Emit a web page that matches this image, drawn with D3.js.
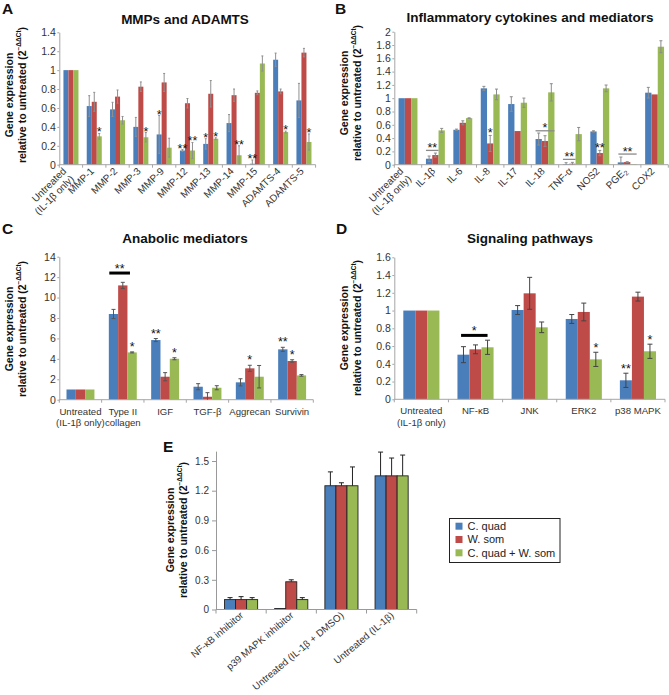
<!DOCTYPE html>
<html><head><meta charset="utf-8">
<script src="https://cdn.jsdelivr.net/npm/d3@7"></script>
<style>body{margin:0;background:#fff;} svg{font-family:"Liberation Sans", Arial, sans-serif;}</style>
</head><body><svg id="c" width="669" height="695"></svg>
<script>
// ---------- DATA ----------
const seriesNames = ["C. quad", "W. som", "C. quad + W. som"];
const seriesColors = ["#4a7ebb", "#be4b48", "#98b954"];

// Panel A: MMPs and ADAMTS
const catsA = ["Untreated\n(IL-1β only)", "MMP-1", "MMP-2", "MMP-3", "MMP-9", "MMP-12", "MMP-13", "MMP-14", "MMP-15", "ADAMTS-4", "ADAMTS-5"];
const cquadA = [1, 0.62, 0.585, 0.40, 0.32, 0.15, 0.22, 0.44, 0.01, 1.11, 0.68];
const wsomA  = [1, 0.665, 0.72, 0.825, 0.87, 0.65, 0.75, 0.735, 0.76, 0.775, 1.185];
const comboA = [1, 0.30, 0.47, 0.29, 0.18, 0.15, 0.275, 0.10, 1.07, 0.345, 0.24];
const cquadErrA = [0, 0.11, 0.075, 0.1, 0.2, 0.01, 0.055, 0.09, 0.04, 0.07, 0.18];
const wsomErrA  = [0, 0.1, 0.07, 0.05, 0.095, 0.05, 0.14, 0.065, 0.02, 0.025, 0.045];
const comboErrA = [0, 0.03, 0.04, 0.05, 0.1, 0.085, 0.01, 0.1, 0.08, 0.01, 0.085];
const ticksA = [0, 0.2, 0.4, 0.6, 0.8, 1, 1.2, 1.4];
const tickLabelsA = ["0", "0.2", "0.4", "0.6", "0.8", "1", "1.2", "1.4"];
const annotA = [
  {cat:1, s:2, t:"*"}, {cat:3, s:2, t:"*"}, {cat:4, s:0, t:"*"}, {cat:5, s:0, t:"**"},
  {cat:5, s:2, t:"**"}, {cat:6, s:0, t:"*"}, {cat:6, s:2, t:"*"}, {cat:7, s:2, t:"**"},
  {cat:8, s:0, t:"**"}, {cat:9, s:2, t:"*"}, {cat:10, s:2, t:"*"}
];

// Panel B: Inflammatory cytokines and mediators
const catsB = ["Untreated\n(IL-1β only)", "IL-1β", "IL-6", "IL-8", "IL-17", "IL-18", "TNF-α", "NOS2", "PGE_2", "COX2"];
const cquadB = [1, 0.09, 0.525, 1.148, 0.912, 0.386, 0.01, 0.50, 0.035, 1.083];
const wsomB  = [1, 0.145, 0.63, 0.32, 0.506, 0.356, 0.015, 0.175, 0.04, 1.057];
const comboB = [1, 0.516, 0.70, 1.057, 0.932, 1.088, 0.46, 1.148, 0.01, 1.774];
const cquadErrB = [0, 0.04, 0.01, 0.03, 0.11, 0.09, 0.02, 0.01, 0.08, 0.08];
const wsomErrB  = [0, 0.03, 0.03, 0.12, 0, 0.08, 0.02, 0.04, 0.005, 0];
const comboErrB = [0, 0.03, 0.005, 0.08, 0.07, 0.13, 0.1, 0.05, 0, 0.09];
const ticksB = [0, 0.2, 0.4, 0.6, 0.8, 1, 1.2, 1.4, 1.6, 1.8, 2];
const tickLabelsB = ["0", "0.2", "0.4", "0.6", "0.8", "1", "1.2", "1.4", "1.6", "1.8", "2"];
const annotB = [
  {cat:1, a:0, b:2, yv:0.215, t:"**"}, {cat:3, s:1, t:"*"},
  {cat:5, a:0, b:3, yv:0.51, t:"*"}, {cat:6, a:0, b:2, yv:0.08, t:"**"},
  {cat:7, s:1, t:"**"}, {cat:8, a:0.1, b:3, yv:0.16, t:"**"}
];

// Panel C: Anabolic mediators
const catsC = ["Untreated\n(IL-1β only)", "Type II\ncollagen", "IGF", "TGF-β", "Aggrecan", "Survivin"];
const cquadC = [1, 8.39, 5.84, 1.27, 1.70, 4.93];
const wsomC  = [1, 11.19, 2.25, 0.29, 3.07, 3.79];
const comboC = [1, 4.63, 4.01, 1.17, 2.25, 2.38];
const cquadErrC = [0, 0.45, 0.15, 0.3, 0.35, 0.2];
const wsomErrC  = [0, 0.3, 0.4, 0.4, 0.3, 0.12];
const comboErrC = [0, 0.05, 0.1, 0.2, 1.1, 0.08];
const ticksC = [0, 2, 4, 6, 8, 10, 12, 14];
const tickLabelsC = ["0", "2", "4", "6", "8", "10", "12", "14"];
const annotC = [
  {cat:1, a:0.05, b:2.27, yv:12.4, t:"**", thick:true}, {cat:1, s:2, t:"*"},
  {cat:2, s:0, t:"**"}, {cat:2, s:2, t:"*"}, {cat:4, s:1, t:"*"},
  {cat:5, s:0, t:"**"}, {cat:5, s:1, t:"*"}
];

// Panel D: Signaling pathways
const catsD = ["Untreated\n(IL-1β only)", "NF-κB", "JNK", "ERK2", "p38 MAPK"];
const cquadD = [1, 0.503, 1.006, 0.905, 0.214];
const wsomD  = [1, 0.563, 1.194, 0.984, 1.157];
const comboD = [1, 0.586, 0.811, 0.45, 0.541];
const cquadErrD = [0, 0.09, 0.05, 0.05, 0.08];
const wsomErrD  = [0, 0.05, 0.18, 0.1, 0.05];
const comboErrD = [0, 0.08, 0.06, 0.08, 0.08];
const ticksD = [0, 0.2, 0.4, 0.6, 0.8, 1, 1.2, 1.4, 1.6];
const tickLabelsD = ["0", "0.2", "0.4", "0.6", "0.8", "1", "1.2", "1.4", "1.6"];
const annotD = [
  {cat:1, a:0.3, b:2.5, yv:0.72, t:"*", thick:true},
  {cat:3, s:2, t:"*"}, {cat:4, s:0, t:"**"}, {cat:4, s:2, t:"*"}
];

// Panel E: inhibitors
const catsE = ["NF-κB inhibitor", "p39 MAPK inhibitor", "Untreated (IL-1β + DMSO)", "Untreated (IL-1β)"];
const cquadE = [0.10, 0.01, 1.25, 1.35];
const wsomE  = [0.10, 0.28, 1.25, 1.35];
const comboE = [0.10, 0.10, 1.25, 1.35];
const cquadErrE = [0.02, 0, 0.14, 0.24];
const wsomErrE  = [0.03, 0.02, 0.03, 0.18];
const comboErrE = [0.02, 0.02, 0.19, 0.21];
const ticksE = [0, 0.3, 0.6, 0.9, 1.2, 1.5];
const tickLabelsE = ["0", "0.3", "0.6", "0.9", "1.2", "1.5"];

// ---------- DRAWING ----------
const svg = d3.select("#c");
const txtColor = "#333";

function addLabelText(sel, label) {
  const parts = label.split("_");
  sel.append("tspan").text(parts[0]);
  if (parts.length > 1) {
    sel.append("tspan").attr("font-size", "0.7em").attr("dy", "0.3em").text(parts[1]);
  }
}

function drawPanel(p) {
  const g = svg.append("g");
  const n = p.cats.length;
  const x = d3.scaleBand().domain(d3.range(n)).range([p.x0, p.x1]);
  const y = d3.scaleLinear().domain([0, p.ymax]).range([p.yB, p.yT]);
  const bw = x.bandwidth();
  const gw = bw * p.frac;
  const xs = d3.scaleBand().domain([0, 1, 2]).range([(bw - gw) / 2, (bw + gw) / 2]);
  const barW = xs.bandwidth();
  const barPos = (i, u) => x(i) + xs(0) + u * barW;

  const ya = d3.axisLeft(y).tickValues(p.ticks).tickFormat((d, i) => p.tickLabels[i])
    .tickSize(p.tickSize).tickPadding(p.tickPad).tickSizeOuter(0);
  const yg = g.append("g").attr("transform", `translate(${p.x0},0)`).call(ya);
  yg.select(".domain").attr("stroke", p.axisColor);
  yg.selectAll(".tick line").attr("stroke", p.axisColor);
  yg.selectAll(".tick text").attr("font-size", p.tickFont).attr("fill", txtColor)
    .attr("font-family", "Liberation Sans, Arial, sans-serif");

  const data = [];
  p.values.forEach((arr, s) => arr.forEach((v, i) => data.push({ i, s, v, e: p.errs[s][i] })));
  g.selectAll("rect.bar").data(data).join("rect").attr("class", "bar")
    .attr("x", d => x(d.i) + xs(d.s)).attr("width", barW)
    .attr("y", d => y(d.v)).attr("height", d => y(0) - y(d.v))
    .attr("fill", d => seriesColors[d.s])
    .attr("stroke", p.barStroke || "none").attr("stroke-width", p.barStroke ? 0.9 : 0);

  const xg = g.append("g");
  xg.append("line").attr("x1", x.range()[0]).attr("x2", x.range()[1])
    .attr("y1", y(0)).attr("y2", y(0)).attr("stroke", p.axisColor);
  xg.selectAll("line.bt").data(d3.range(n + 1)).join("line").attr("class", "bt")
    .attr("x1", k => p.x0 + k * x.step()).attr("x2", k => p.x0 + k * x.step())
    .attr("y1", y(0)).attr("y2", y(0) + p.xTick).attr("stroke", p.axisColor);

  const ed = data.filter(d => d.e > 0);
  const eg = g.append("g").attr("stroke", p.errColor).attr("stroke-width", 1);
  ed.forEach(d => {
    const cx = x(d.i) + xs(d.s) + barW / 2;
    const top = y(d.v + d.e);
    const bot = p.upOnly ? y(d.v) : y(Math.max(0, d.v - d.e));
    eg.append("line").attr("x1", cx).attr("x2", cx).attr("y1", top).attr("y2", bot);
    eg.append("line").attr("x1", cx - p.cap).attr("x2", cx + p.cap).attr("y1", top).attr("y2", top);
    if (!p.upOnly && d.v - d.e > 0)
      eg.append("line").attr("x1", cx - p.cap).attr("x2", cx + p.cap).attr("y1", bot).attr("y2", bot);
  });

  p.cats.forEach((c, i) => {
    const lines = c.split("\n");
    const cx = x(i) + bw / 2;
    if (p.rotate) {
      lines.forEach((ln, k) => {
        const ax = lines.length > 1 ? cx - 4 : cx + p.rdx;
        const t = g.append("text").attr("text-anchor", "end")
          .attr("transform", `translate(${ax},${y(0) + p.rdy}) rotate(${p.rotate})`)
          .attr("y", k * 11).attr("font-size", p.labelFont).attr("fill", txtColor);
        addLabelText(t, ln);
      });
    } else {
      lines.forEach((ln, k) => {
        const t = g.append("text").attr("text-anchor", "middle")
          .attr("x", cx).attr("y", y(0) + 15 + k * 11.5)
          .attr("font-size", p.labelFont).attr("fill", txtColor);
        addLabelText(t, ln);
      });
    }
  });

  (p.annot || []).forEach(a => {
    if (a.s !== undefined) {
      const v = p.values[a.s][a.cat] + p.errs[a.s][a.cat];
      g.append("text").attr("text-anchor", "middle")
        .attr("x", barPos(a.cat, a.s + 0.5)).attr("y", y(v) + 7 - p.starGap)
        .attr("font-size", 12.5).attr("fill", "#111").text(a.t);
    } else {
      const xa = barPos(a.cat, a.a), xb = barPos(a.cat, a.b);
      g.append("line").attr("x1", xa).attr("x2", xb).attr("y1", y(a.yv)).attr("y2", y(a.yv))
        .attr("stroke", a.thick ? "#000" : "#8a8a8a").attr("stroke-width", a.thick ? 3 : 1.3);
      g.append("text").attr("text-anchor", "middle")
        .attr("x", (xa + xb) / 2).attr("y", y(a.yv) + (a.thick ? 0 : 1.5))
        .attr("font-size", 12.5).attr("fill", "#111").text(a.t);
    }
  });
}

function yLabel(xa, xb, cy, fs) {
  svg.append("text").attr("transform", `translate(${xa},${cy}) rotate(-90)`)
    .attr("text-anchor", "middle").attr("font-weight", "bold").attr("font-size", fs)
    .attr("fill", "#111").text("Gene expression");
  const t2 = svg.append("text").attr("transform", `translate(${xb},${cy}) rotate(-90)`)
    .attr("text-anchor", "middle").attr("font-weight", "bold").attr("font-size", fs).attr("fill", "#111");
  t2.append("tspan").text("relative to untreated (2");
  t2.append("tspan").attr("font-size", fs * 0.62).attr("dy", -fs * 0.45).text("−ΔΔCt");
  t2.append("tspan").attr("dy", fs * 0.45).text(")");
}

function title(txt, x, y) {
  svg.append("text").attr("x", x).attr("y", y).attr("text-anchor", "middle")
    .attr("font-weight", "bold").attr("font-size", 13.5).attr("fill", "#111").text(txt);
}
function letter(txt, x, y) {
  svg.append("text").attr("x", x).attr("y", y).attr("font-weight", "bold")
    .attr("font-size", 15.5).attr("fill", "#111").text(txt);
}

const base = { tickSize: 2, tickPad: 1.5, tickFont: 10.5, axisColor: "#a6a6a6", xTick: 3,
  errColor: "#8c8c8c", cap: 1.5, upOnly: false, starGap: 4, rdx: 0.5, rdy: 7 };

drawPanel(Object.assign({}, base, {
  cats: catsA, values: [cquadA, wsomA, comboA], errs: [cquadErrA, wsomErrA, comboErrA],
  ticks: ticksA, tickLabels: tickLabelsA, annot: annotA, ymax: 1.4,
  x0: 59.3, x1: 315.6, yB: 164.7, yT: 32.3, frac: 0.645, rotate: -45, labelFont: 10,
  errColor: "#8f8f8f", cap: 1
}));
drawPanel(Object.assign({}, base, {
  cats: catsB, values: [cquadB, wsomB, comboB], errs: [cquadErrB, wsomErrB, comboErrB],
  ticks: ticksB, tickLabels: tickLabelsB, annot: annotB, ymax: 2,
  x0: 394.3, x1: 668.3, yB: 164.7, yT: 31.7, frac: 0.69, rotate: -45, labelFont: 10, starGap: 5
}));
drawPanel(Object.assign({}, base, {
  cats: catsC, values: [cquadC, wsomC, comboC], errs: [cquadErrC, wsomErrC, comboErrC],
  ticks: ticksC, tickLabels: tickLabelsC, annot: annotC, ymax: 14,
  x0: 59.3, x1: 313.3, yB: 399.7, yT: 256.7, frac: 0.66, rotate: 0, labelFont: 9.6,
  errColor: "#555", cap: 2, starGap: 8
}));
drawPanel(Object.assign({}, base, {
  cats: catsD, values: [cquadD, wsomD, comboD], errs: [cquadErrD, wsomErrD, comboErrD],
  ticks: ticksD, tickLabels: tickLabelsD, annot: annotD, ymax: 1.6,
  x0: 394.3, x1: 665, yB: 399.3, yT: 257.3, frac: 0.667, rotate: 0, labelFont: 9.6,
  errColor: "#444", cap: 2.5, starGap: 7
}));
drawPanel(Object.assign({}, base, {
  cats: catsE, values: [cquadE, wsomE, comboE], errs: [cquadErrE, wsomErrE, comboErrE],
  ticks: ticksE, tickLabels: tickLabelsE, annot: [], ymax: 1.6,
  x0: 216, x1: 416.7, yB: 609.5, yT: 451.1, frac: 0.66, rotate: -40, labelFont: 9.8,
  tickSize: 4, tickPad: 3, tickFont: 10, axisColor: "#999", xTick: 4, rdx: 3, rdy: 7,
  errColor: "#222", cap: 2.5, upOnly: true, barStroke: "#222"
}));

yLabel(13, 26, 95, 10.5);
yLabel(335 + 13, 335 + 26, 93, 10.5);
yLabel(13, 26, 329, 10.5);
yLabel(335 + 13, 335 + 26, 328, 10.5);
yLabel(173.5, 186.5, 530, 10.5);

title("MMPs and ADAMTS", 185, 23.5);
title("Inflammatory cytokines and mediators", 530, 21.5);
title("Anabolic mediators", 185, 243);
title("Signaling pathways", 530, 243);

letter("A", 2, 13.5);
letter("B", 335, 13.5);
letter("C", 2, 233.5);
letter("D", 336, 233.5);
letter("E", 163, 452);

const lg = svg.append("g");
lg.append("rect").attr("x", 449.5).attr("y", 518.5).attr("width", 110.5).attr("height", 44)
  .attr("fill", "#fff").attr("stroke", "#222").attr("stroke-width", 1);
seriesNames.forEach((nm, i) => {
  lg.append("rect").attr("x", 455.5).attr("y", 522.7 + i * 13.3).attr("width", 7).attr("height", 7)
    .attr("fill", seriesColors[i]);
  lg.append("text").attr("x", 467.5).attr("y", 530 + i * 13.3).attr("font-size", 11)
    .attr("fill", "#222").text(nm);
});
</script></body></html>
